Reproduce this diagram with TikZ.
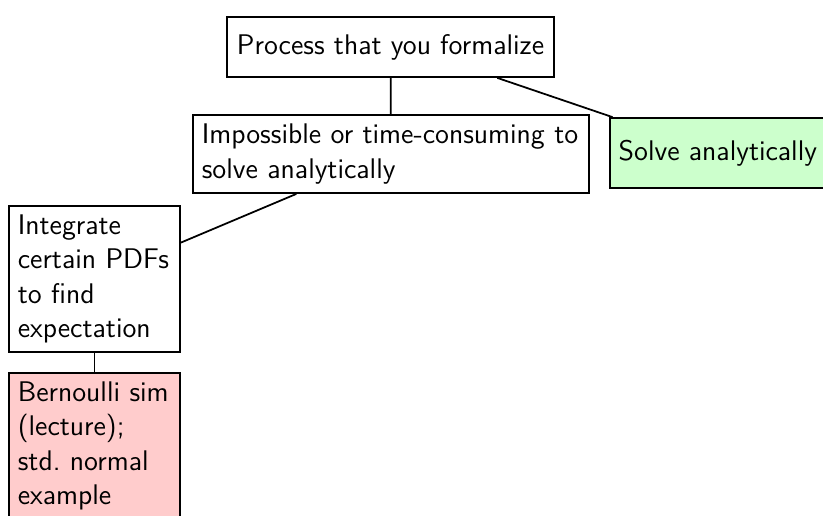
\documentclass[tikz,border=0pt]{standalone}
\usepackage{xcolor}
\usepackage{tikz}
\usetikzlibrary{calc}
\definecolor{okfill}{HTML}{CCFFCC}
\definecolor{simfill}{HTML}{FFCCCC}
\tikzset{
  box/.style={draw,line width=0.8pt,fill=white,inner xsep=4.5pt,inner ysep=2pt,font=\sffamily\fontsize{12.9}{15.6}\selectfont},
  wbox/.style={box,align=left},
  leaf/.style={wbox,inner xsep=4pt,text width=69.7pt,minimum height=66.4pt},
  okbox/.style={box,inner xsep=4pt,fill=okfill,minimum height=31.8pt},
  simbox/.style={leaf,fill=simfill},
  link/.style={line width=0.8pt,black},
}
\begin{document}
\begin{tikzpicture}[x=0.4545pt,y=-0.4545pt]
        \useasboundingbox (0,0) rectangle (823,516);
        \node[box,minimum width=147.7pt,minimum height=27.3pt] (root) at (390.5,47) {Process that you formalize};
        \node[wbox,inner xsep=4pt,text width=172pt,minimum height=35.5pt] (hard) at (391,154) {Impossible or time-consuming to\\solve analytically};
        \node[okbox,anchor=west] (solve) at (609,153) {Solve analytically};
        \node[leaf] (integ) at (94.5,279) {Integrate\\certain PDFs\\to find\\expectation};
        \node[simbox,anchor=north] (bern) at (94.5,372) {Bernoulli sim\\(lecture);\\std.\ normal\\example};
        \draw[link] (root) -- (hard);
        \draw[link] ($(root.south)!.65!(root.south east)$) -- (solve);
        \draw[link] (hard) -- (integ); \draw[link] (integ) -- (bern);
      \end{tikzpicture}
\end{document}
